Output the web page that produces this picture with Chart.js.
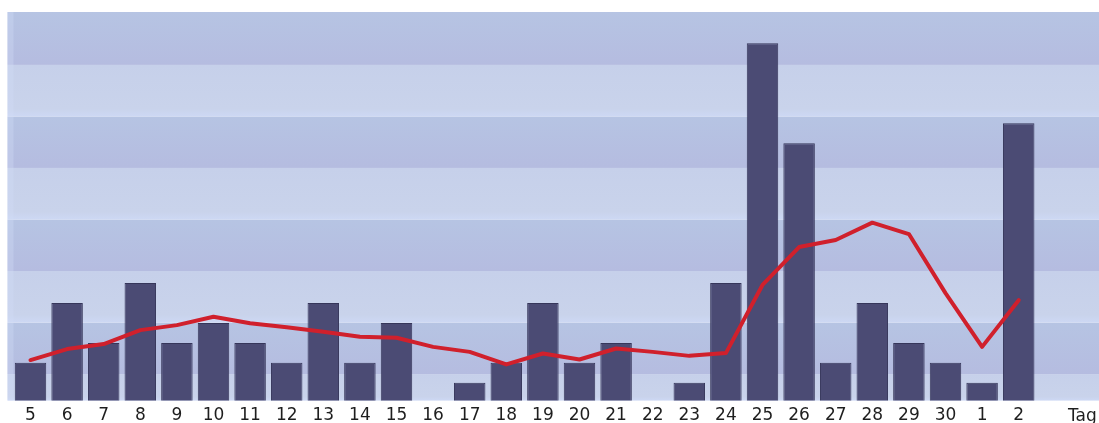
<!DOCTYPE html>
<html>
<head>
<meta charset="utf-8">
<script src="https://cdn.jsdelivr.net/npm/chart.js@4/dist/chart.umd.min.js"></script>
<style>
  html, body { margin: 0; padding: 0; background: #ffffff; overflow: hidden; }
  #wrap { position: relative; width: 1099px; height: 423px; overflow: hidden; }
  #tag { position: absolute; left: 1068px; top: 405px; font-family: "DejaVu Sans", Verdana, sans-serif;
         font-size: 17px; color: #1e1e1e; white-space: nowrap; line-height: 20px; }
</style>
</head>
<body>
<div id="wrap">
  <canvas id="c" width="1099" height="423"></canvas>
  <div id="tag">Tag</div>
</div>
<script>
// Days (x-axis tick labels)
const categories = ['5','6','7','8','9','10','11','12','13','14','15','16','17','18','19','20','21','22','23','24','25','26','27','28','29','30','1','2'];
// Daily values (bars)
const dailyValues = [2,5,3,6,3,4,3,2,5,2,4,0,1,2,5,2,3,0,1,6,18,13,2,5,3,2,1,14];
// Running average (red line)
const averageValues = [2.14,2.69,2.94,3.64,3.89,4.31,3.98,3.78,3.56,3.31,3.26,2.80,2.55,1.92,2.47,2.17,2.72,2.55,2.35,2.49,5.90,7.80,8.15,9.02,8.45,5.49,2.80,5.14];
// Background band boundaries (value units)
const bandEdges = [1.44, 4.02, 6.60, 9.18, 11.76, 14.34, 16.92];

const bandPlugin = {
  id: 'bands',
  beforeDatasetsDraw(chart) {
    const ctx = chart.ctx;
    const area = chart.chartArea;
    const y = chart.scales.y;
    const left = 7.5, right = chart.width;
    ctx.save();
    const edges = [area.bottom].concat(bandEdges.map(v => y.getPixelForValue(v))).concat([area.top]);
    for (let i = 0; i < edges.length - 1; i++) {
      const yb = edges[i], yt = edges[i + 1];
      const dark = (i % 2 === 1);
      const g = ctx.createLinearGradient(0, yt, 0, yb);
      if (dark) {
        g.addColorStop(0, '#b6c4e3');
        g.addColorStop(1, '#b5bce0');
      } else {
        g.addColorStop(0, '#c6d0ea');
        g.addColorStop(0.85, '#c9d3eb');
        g.addColorStop(1, '#cdd8f4');
      }
      ctx.fillStyle = g;
      ctx.fillRect(left, yt, right - left, yb - yt);
    }
    ctx.fillStyle = 'rgba(210,220,245,0.35)';
    ctx.fillRect(left, area.top, 6, area.bottom - area.top);
    ctx.restore();
  }
};

new Chart(document.getElementById('c'), {
  data: {
    labels: categories,
    datasets: [
      {
        type: 'line',
        data: averageValues,
        borderColor: '#d0202c',
        borderWidth: 4,
        pointRadius: 0,
        tension: 0,
        borderJoinStyle: 'round',
        borderCapStyle: 'round',
        order: 0
      },
      {
        type: 'bar',
        data: dailyValues,
        backgroundColor: '#4b4b74',
        borderColor: '#36365a',
        borderWidth: 1,
        borderSkipped: 'bottom',
        barPercentage: 0.86,
        categoryPercentage: 1.0,
        order: 1
      }
    ]
  },
  options: {
    responsive: false,
    animation: false,
    devicePixelRatio: 1,
    layout: { padding: { left: 12.2, right: 62, top: 12, bottom: 0 } },
    plugins: { legend: { display: false }, tooltip: { enabled: false } },
    scales: {
      x: {
        type: 'category',
        offset: true,
        grid: { display: false },
        border: { display: false },
        ticks: {
          color: '#1e1e1e',
          font: { family: 'DejaVu Sans', size: 17 },
          padding: -3,
          maxRotation: 0,
          autoSkip: false
        }
      },
      y: {
        display: false,
        min: 0.11,
        max: 19.57
      }
    }
  },
  plugins: [bandPlugin]
});
</script>
</body>
</html>
